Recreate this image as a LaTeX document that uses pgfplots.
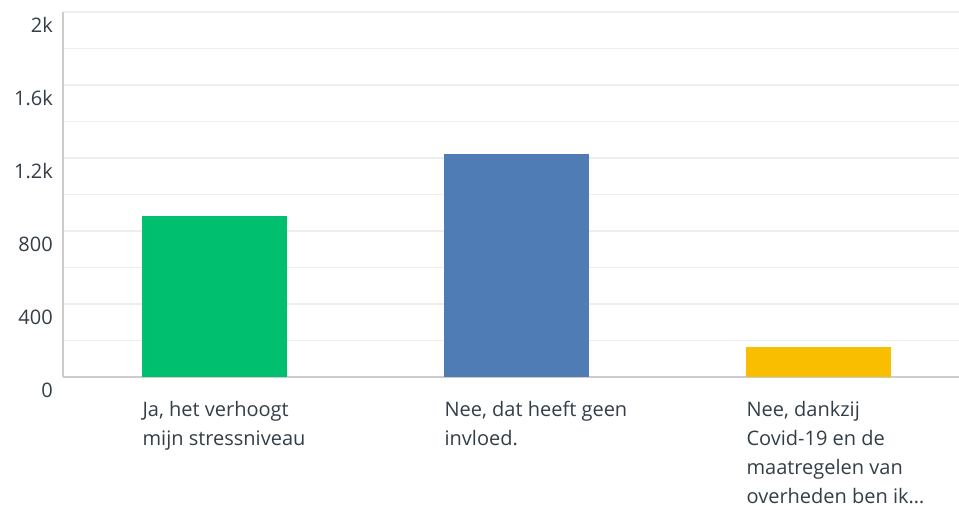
\documentclass[border=0pt]{standalone}
\usepackage{pgfplots}
\pgfplotsset{compat=1.18}
\usepackage{fontspec}
\setmainfont{Open Sans}
\definecolor{txt}{HTML}{333E48}
\definecolor{gridc}{HTML}{EEEEEE}
\definecolor{axc}{HTML}{CCCCCC}
\definecolor{cgreen}{HTML}{00BF6F}
\definecolor{cblue}{HTML}{507CB6}
\definecolor{cyellow}{HTML}{F9BE00}
\begin{document}
\begin{tikzpicture}
\begin{axis}[
  scale only axis,
  width=896pt, height=365pt,
  xmin=-0.503, xmax=2.464,
  ymin=0, ymax=2000,
  axis x line*=bottom,
  axis y line*=left,
  axis line style={axc, line width=1.5pt},
  xtick={0,1,2},
  xticklabels={{Ja, het verhoogt\\mijn stressniveau},{Nee, dat heeft geen\\invloed.},{Nee, dankzij\\Covid-19 en de\\maatregelen van\\overheden ben ik\ldots}},
  xticklabel style={anchor=north west, align=left, xshift=-72.5pt, yshift=-24pt, inner sep=0pt, font=\fontsize{20}{29}\selectfont, text=txt},
  ytick={0,400,800,1200,1600,2000},
  yticklabels={0,400,800,1.2k,1.6k,2k},
  minor ytick={200,600,1000,1400,1800},
  yticklabel style={anchor=east, inner sep=0pt, xshift=-10pt, yshift=-13pt, font=\fontsize{20}{24}\selectfont, text=txt},
  major tick length=0pt, minor tick length=0pt,
  ymajorgrids, yminorgrids,
  major grid style={gridc, line width=1.5pt},
  minor grid style={gridc, line width=1.5pt},
  clip=false,
]
\coordinate (o) at (rel axis cs:0,0);
\addplot[ybar, bar width=145pt, fill=cgreen, draw=none] coordinates {(0,882)};
\addplot[ybar, bar width=145pt, fill=cblue, draw=none] coordinates {(1,1222)};
\addplot[ybar, bar width=145pt, fill=cyellow, draw=none] coordinates {(2,164)};
\end{axis}
\pgfresetboundingbox
\path (o) ++(-63pt,-133pt) rectangle ++(959pt,510pt);
\end{tikzpicture}
\end{document}
